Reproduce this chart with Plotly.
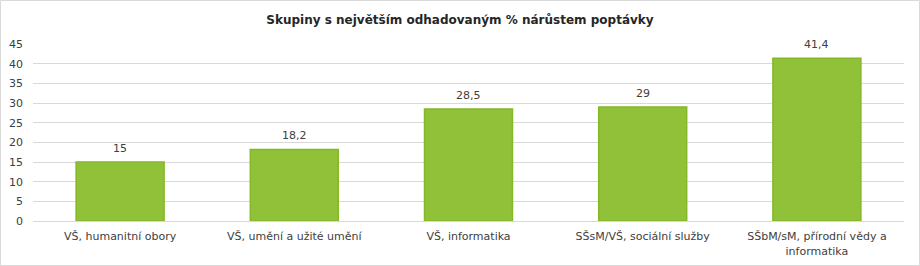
import plotly.graph_objects as go

categories = ["VŠ, humanitní obory", "VŠ, umění a užité umění", "VŠ, informatika",
              "SŠsM/VŠ, sociální služby", "SŠbM/sM, přírodní vědy a<br>informatika"]
values = [15, 18.2, 28.5, 29, 41.4]
value_labels = ["15", "18,2", "28,5", "29", "41,4"]
tick_vals = [0, 5, 10, 15, 20, 25, 30, 35, 40, 45]

W, H = 920, 266
ml, mr, mt, mb = 33, 16, 44, 45
pw, ph = W - ml - mr, H - mt - mb

fig = go.Figure(go.Bar(
    x=categories, y=values,
    marker=dict(color="#90c138", line=dict(color="#84b827", width=1.5)),
    cliponaxis=False,
))

annotations = [dict(x=c, y=v, text=t, showarrow=False, xref="x", yref="y",
                    yanchor="bottom", yshift=5,
                    font=dict(family="DejaVu Sans", size=11, color="#404040"))
               for c, v, t in zip(categories, values, value_labels)]

fig.update_layout(
    width=W, height=H,
    margin=dict(l=ml, r=mr, t=mt, b=mb, autoexpand=False),
    paper_bgcolor="white", plot_bgcolor="white",
    bargap=0.495,
    showlegend=False,
    annotations=annotations,
    title=dict(text="<b>Skupiny s největším odhadovaným % nárůstem poptávky</b>",
               x=0.5, xanchor="center", y=1 - 20 / H, yanchor="middle",
               font=dict(family="DejaVu Sans", size=12, color="#262626")),
    font=dict(family="DejaVu Sans", size=11, color="#404040"),
    xaxis=dict(showgrid=False, showline=True, linecolor="#d9d9d9", linewidth=1,
               automargin=False,
               ticks="", ticklabelstandoff=5, tickfont=dict(size=11, color="#404040")),
    yaxis=dict(range=[0, 45], tickvals=tick_vals, showgrid=True, gridcolor="#d9d9d9",
               gridwidth=1, zeroline=False, ticks="", showline=False, automargin=False,
               ticklabelstandoff=9, tickfont=dict(size=11, color="#404040")),
    shapes=[dict(type="rect", xref="paper", yref="paper",
                 x0=(0.5 - ml) / pw, x1=(W - 0.5 - ml) / pw,
                 y0=(H - mb - (H - 0.5)) / ph, y1=(H - mb - 0.5) / ph,
                 line=dict(color="#d9d9d9", width=1), layer="below")],
)

fig.write_html("out.html")
